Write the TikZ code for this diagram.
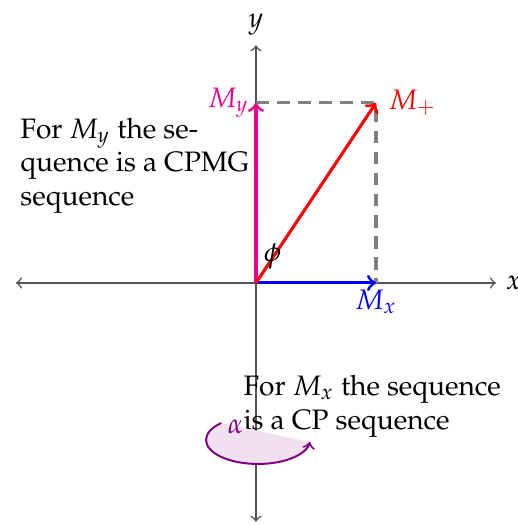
\documentclass[tikz,border=0pt]{standalone}
\usepackage[T1]{fontenc}
\usepackage{mathpazo}
\usepackage{xcolor}
\definecolor{axisgray}{rgb}{0.33,0.33,0.33}
\definecolor{dashgray}{rgb}{0.5,0.5,0.5}
\definecolor{hotpink}{RGB}{236,0,140}
\definecolor{rotviolet}{rgb}{0.5,0,0.5}
\usepackage{tikz}
\usetikzlibrary{arrows.meta, calc, positioning}

\begin{document}
\begin{tikzpicture}[x=1.5cm, y=1.5cm, >=to,
  axis/.style={axisgray, line width=0.55pt},
  proj/.style={dashgray, line width=1.1pt, dash pattern=on 4.5pt off 3pt},
  vec/.style={->, line width=1.1pt}]
\useasboundingbox (-2.133,-2.017) rectangle (2.183,2.358);
% axes
\coordinate (O) at (0,0);
\coordinate (xl) at (-2,0);
\coordinate (xr) at (2,0);
\coordinate (yb) at (0,-1.99);
\coordinate (yt) at (0,1.98);
\draw[axis, <->] (xl) -- (xr) node[right, black] (xlab) {$x$};
\draw[axis, <->] (yb) -- (yt) node[above, black] (ylab) {$y$};
% components and total magnetisation
\coordinate (Mx) at (1,0);
\coordinate (My) at (0,1.5);
\coordinate (Mp) at (1,1.5);
\draw[proj] (My) -- (Mp) -- (Mx);
\draw[vec, blue] (O) -- (Mx) node[below, inner sep=2pt] (mxlab) {$M_x$};
\draw[vec, hotpink] (O) -- (My) node[left, inner sep=2pt] (mylab) {$M_y$};
\draw[vec, red] (O) -- (Mp) node[right, inner sep=4pt] (mplab) {$M_+$};
\node (phi) at (0.14,0.22) {$\phi$};
% annotations
\node[anchor=north west, align=left, inner sep=0pt] (cpmg) at (-1.967,1.38)
  {For $M_y$ the se-\\quence is a CPMG\\sequence};
\node[anchor=north west, align=left, inner sep=0pt] (cp) at (-0.108,-0.765)
  {For $M_x$ the sequence\\is a CP sequence};
% rotation about y
\coordinate (rs) at (-0.289,-1.167);
\fill[rotviolet!12] (rs) arc[start angle=135, end angle=355, x radius=0.433, y radius=0.2] -- cycle;
\draw[rotviolet, ->, line width=0.7pt] (rs) arc[start angle=135, end angle=355, x radius=0.433, y radius=0.2];
\node[rotviolet] (alpha) at (-0.17,-1.2) {$\alpha$};
\end{tikzpicture}
\end{document}
